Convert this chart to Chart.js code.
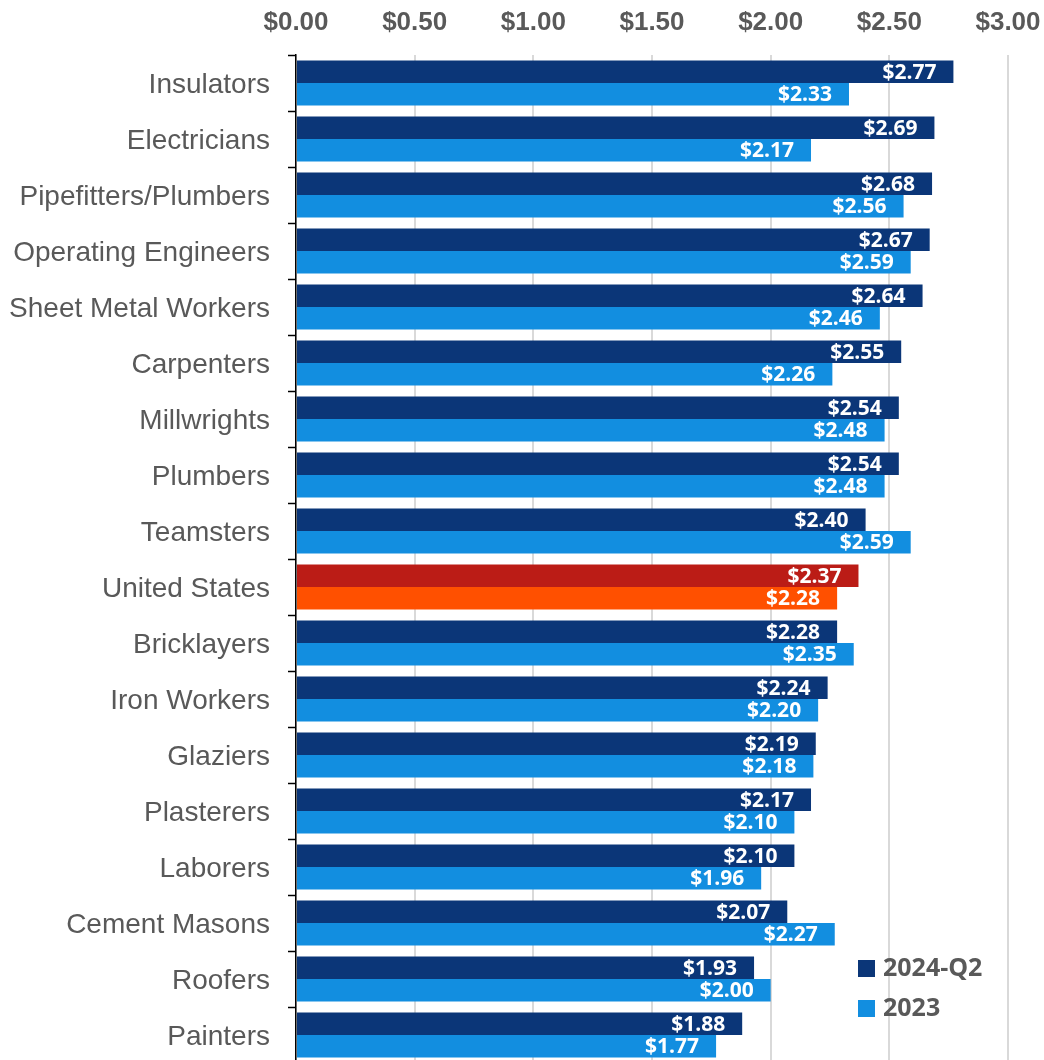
<!DOCTYPE html>
<html>
<head>
<meta charset="utf-8">
<script src="https://cdn.jsdelivr.net/npm/chart.js@4/dist/chart.umd.min.js"></script>
<style>
html,body{margin:0;padding:0;background:#fff;overflow:hidden;}
#wrap{position:relative;width:1044px;height:1064px;}
</style>
</head>
<body>
<div id="wrap"><canvas id="c"></canvas></div>
<script>
const categories = ["Insulators","Electricians","Pipefitters/Plumbers","Operating Engineers","Sheet Metal Workers","Carpenters","Millwrights","Plumbers","Teamsters","United States","Bricklayers","Iron Workers","Glaziers","Plasterers","Laborers","Cement Masons","Roofers","Painters"];
const series2024Q2 = [2.77,2.69,2.68,2.67,2.64,2.55,2.54,2.54,2.40,2.37,2.28,2.24,2.19,2.17,2.10,2.07,1.93,1.88];
const series2023 = [2.33,2.17,2.56,2.59,2.46,2.26,2.48,2.48,2.59,2.28,2.35,2.20,2.18,2.10,1.96,2.27,2.00,1.77];
const seriesNames = ["2024-Q2","2023"];
const xTickMin = 0, xTickMax = 3, xTickStep = 0.5;
const highlightCategory = "United States";

const DARK = '#0b3678', LIGHT = '#128ee0', HL_DARK = '#bb1c16', HL_LIGHT = '#ff5000';
const colorsFor = (base, hl) => categories.map(c => c === highlightCategory ? hl : base);
const fmt = v => '$' + v.toFixed(2);

const dataLabels = {
  id: 'dataLabels',
  afterDatasetsDraw(chart) {
    const ctx = chart.ctx;
    ctx.save();
    ctx.fillStyle = '#fff';
    ctx.font = 'bold 21px "Open Sans"';
    ctx.textAlign = 'right';
    ctx.textBaseline = 'middle';
    chart.data.datasets.forEach((ds, di) => {
      const meta = chart.getDatasetMeta(di);
      meta.data.forEach((el, i) => {
        ctx.fillText(fmt(ds.data[i]), el.x - 17, el.y + 1);
      });
    });
    ctx.restore();
  }
};

const innerLegend = {
  id: 'innerLegend',
  afterDraw(chart) {
    const ctx = chart.ctx;
    const a = chart.chartArea;
    const x0 = a.right - 150, y0 = 960;
    ctx.save();
    ctx.font = 'bold 25px "Open Sans"';
    ctx.textBaseline = 'middle';
    ctx.textAlign = 'left';
    chart.data.datasets.forEach((ds, i) => {
      const y = y0 + i * 40;
      ctx.fillStyle = i === 0 ? DARK : LIGHT;
      ctx.fillRect(x0, y, 17, 17);
      ctx.fillStyle = '#595959';
      ctx.fillText(ds.label, x0 + 25, y + 9);
    });
    ctx.restore();
  }
};

new Chart(document.getElementById('c'), {
  type: 'bar',
  data: {
    labels: categories,
    datasets: [
      { label: seriesNames[0], data: series2024Q2, backgroundColor: colorsFor(DARK, HL_DARK), borderWidth: 0 },
      { label: seriesNames[1], data: series2023, backgroundColor: colorsFor(LIGHT, HL_LIGHT), borderWidth: 0 }
    ]
  },
  options: {
    indexAxis: 'y',
    responsive: true,
    maintainAspectRatio: false,
    animation: false,
    layout: { padding: { top: 0, right: 36, bottom: 1, left: 0 } },
    datasets: { bar: { categoryPercentage: 0.8, barPercentage: 1.0 } },
    plugins: { legend: { display: false }, tooltip: { enabled: false } },
    scales: {
      x: {
        position: 'top',
        min: xTickMin, max: xTickMax,
        ticks: {
          stepSize: xTickStep,
          callback: v => fmt(v),
          color: '#595959',
          font: { family: '"Liberation Sans", Arial, sans-serif', size: 26, weight: 'bold' },
          padding: 17
        },
        grid: { color: '#d9d9d9', lineWidth: 2, drawTicks: false },
        border: { display: false },
        afterFit(s) { s.height = 55; s.paddingLeft = 0; s.paddingRight = 0; s.paddingTop = 0; s.paddingBottom = 0; }
      },
      y: {
        ticks: {
          color: '#595959',
          font: { family: '"Liberation Sans", Arial, sans-serif', size: 28 },
          padding: 18,
          labelOffset: 2
        },
        grid: { offset: true, drawOnChartArea: false, drawTicks: true, tickLength: 8, color: '#000', tickWidth: 1.5 },
        border: { display: true, color: '#000', width: 1.5 },
        afterFit(s) { s.width = 296; s.paddingLeft = 0; s.paddingRight = 0; s.paddingTop = 0; s.paddingBottom = 0; }
      }
    }
  },
  plugins: [dataLabels, innerLegend]
});
</script>
</body>
</html>
